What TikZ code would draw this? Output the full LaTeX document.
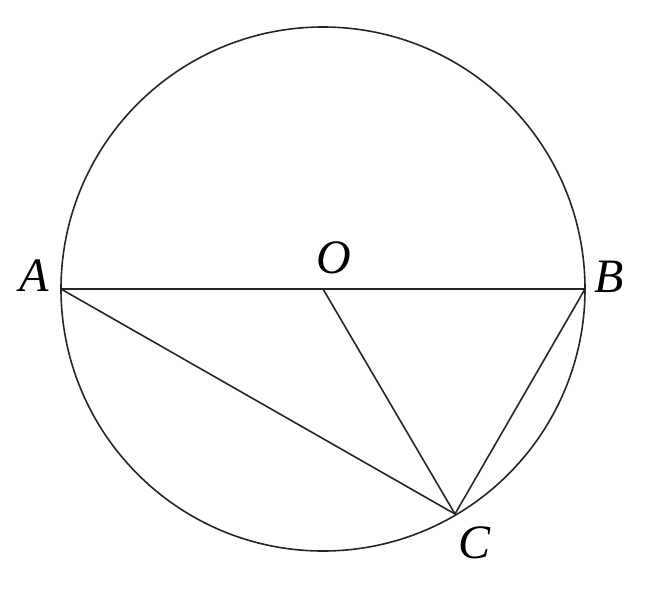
\documentclass[tikz,border=0pt]{standalone}
\usepackage{fontspec}
\setmainfont{Liberation Serif}
\begin{document}
\begin{tikzpicture}[x=1pt,y=-1pt,
  geo/.style={line width=1.6pt,draw=black!85},
  lbl/.style={font=\fontsize{48}{52}\selectfont\itshape,inner sep=0pt}]
\useasboundingbox (0,0) rectangle (647,600);
\coordinate (O) at (323,289);
\coordinate (A) at (61,289);
\coordinate (B) at (585,289);
\coordinate (C) at (455,514);
\draw[geo] (O) circle (262);
\draw[geo] (A) -- (B);
\draw[geo] (A) -- (C) -- (B);
\draw[geo] (O) -- (C);
\node[lbl] (lA) at (34,276) {A};
\node[lbl] (lO) at (334,258) {O};
\node[lbl] (lB) at (609,277) {B};
\node[lbl] (lC) at (474,543) {C};
\end{tikzpicture}
\end{document}
